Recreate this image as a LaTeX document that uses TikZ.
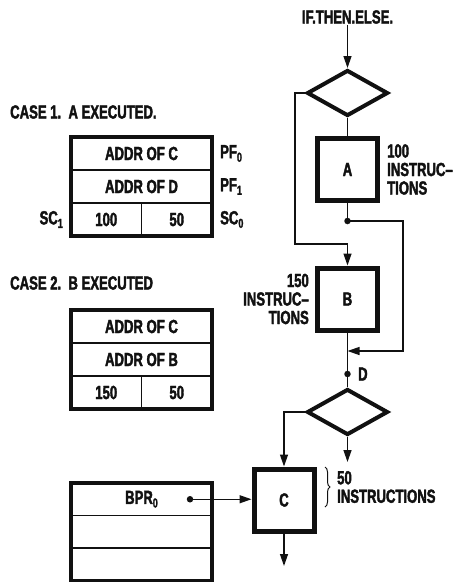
\documentclass[tikz,border=0pt]{standalone}
\usepackage{fontspec}
\setmainfont{Liberation Sans}[FakeStretch=0.69, BoldFeatures={FakeBold=2}]
\usepackage{tikz}
\usetikzlibrary{arrows.meta,positioning,shapes.geometric,decorations.pathreplacing,calc}
\definecolor{cInk}{HTML}{111111}
\newcommand{\lowsub}[1]{\raisebox{-0.35ex}{\fontsize{13}{13}\selectfont #1}}
\tikzset{
  txt/.style={font=\fontsize{19}{18.5}\selectfont\bfseries, text=cInk, inner sep=1pt},
  blk/.style={txt, draw=cInk, line width=5pt, minimum width=60pt,
              minimum height=62pt, inner sep=0pt},
  test/.style={diamond, draw=cInk, line width=4pt, minimum width=81pt,
               minimum height=46pt, inner sep=0pt},
  row/.style={txt, draw=cInk, line width=1.4pt, minimum width=141pt,
              minimum height=33pt, inner sep=0pt, outer sep=0pt},
  cell/.style={row, minimum width=70.5pt},
  tblframe/.style={draw=cInk, line width=3.5pt},
  flow/.style={-{Triangle[length=12pt,width=8pt]}, line width=1.3pt, draw=cInk},
  link/.style={line width=1.3pt, draw=cInk},
  dot/.style={circle, fill=cInk, inner sep=0pt, minimum size=6.5pt},
  lbl/.style={txt, align=left},
  brc/.style={decorate, decoration={brace, amplitude=5pt}, line width=1pt, draw=cInk},
}

\begin{document}
\begin{tikzpicture}[x=1pt, y=-1pt, node distance=0pt]
  \useasboundingbox (0,0) rectangle (457,582);

  % flow chart
  \node[txt] (ite) at (347.5,17) {IF.THEN.ELSE.};
  \node[test] (ifA) at (347.5,93) {};
  \node[blk] (A) at (347.5,169.5) {A};
  \node[dot] (joinA) at (347.5,221) {};
  \node[blk] (B) at (347.5,299) {B};
  \node[dot] (D) at (347.5,374) {};
  \node[txt, right=6pt of D] (Dlbl) {D};
  \node[test] (ifC) at (347.5,412) {};
  \node[blk] (C) at (284,500) {C};
  \coordinate (elseturn) at (295,244);
  \coordinate (thenturn) at (403,351);
  \coordinate (merge) at (347.5,351);
  \coordinate (exitT) at (347.5,462);
  \coordinate (exitC) at (284,566);

  \node[lbl, right=6pt of A] (instA) {100\\INSTRUC--\\TIONS};
  \node[lbl, align=right, left=5pt of B] (instB) {150\\INSTRUC--\\TIONS};
  \node[lbl, anchor=west] (instC) at (336,487) {50\\INSTRUCTIONS};
  \draw[brc] (325,467) -- (325,507);

  \draw[flow] (ite) -- (ifA);
  \draw[link] (ifA) -- (A);
  \draw[flow] (ifA.west) -| (elseturn) -| (B.north);
  \draw[link] (A) -- (joinA.center);
  \draw[flow] (joinA.center) -| (thenturn) -- (merge);
  \draw[link] (B) -- (D.center) -- (ifC);
  \draw[flow] (ifC.west) -| (C.north);
  \draw[flow] (ifC) -- (exitT);
  \draw[flow] (C) -- (exitC);

  % case 1
  \node[txt, anchor=west] (case1) at (9,112) {CASE 1.\ \ A EXECUTED.};
  \node[row] (c1pc) at (141.5,153.5) {ADDR OF C};
  \node[row, below=of c1pc] (c1pd) {ADDR OF D};
  \node[cell, anchor=north west] (c1sc1) at (c1pd.south west) {100};
  \node[cell, anchor=north east] (c1sc0) at (c1pd.south east) {50};
  \draw[tblframe] (c1pc.north west) rectangle (c1sc0.south east);
  \node[txt, right=7pt of c1pc] (pf0) {PF\lowsub{0}};
  \node[txt, right=7pt of c1pd] (pf1) {PF\lowsub{1}};
  \node[txt, right=7pt of c1sc0] (sc0) {SC\lowsub{0}};
  \node[txt, left=7pt of c1sc1] (sc1) {SC\lowsub{1}};

  % case 2
  \node[txt, anchor=west] (case2) at (9,283) {CASE 2.\ \ B EXECUTED};
  \node[row] (c2pc) at (141.5,326.5) {ADDR OF C};
  \node[row, below=of c2pc] (c2pb) {ADDR OF B};
  \node[cell, anchor=north west] (c2sc1) at (c2pb.south west) {150};
  \node[cell, anchor=north east] (c2sc0) at (c2pb.south east) {50};
  \draw[tblframe] (c2pc.north west) rectangle (c2sc0.south east);

  % base page register
  \node[row, minimum height=32.5pt] (bpr) at (141.5,499.25) {BPR\lowsub{0}};
  \node[row, minimum height=32.5pt, below=of bpr] (bpr1) {};
  \node[row, minimum height=32.5pt, below=of bpr1] (bpr2) {};
  \draw[tblframe] (bpr.north west) rectangle (bpr2.south east);
  \node[dot] (bprdot) at (190,499.25) {};
  \draw[flow] (bprdot.center) -- (bprdot -| C.west);
\end{tikzpicture}
\end{document}
